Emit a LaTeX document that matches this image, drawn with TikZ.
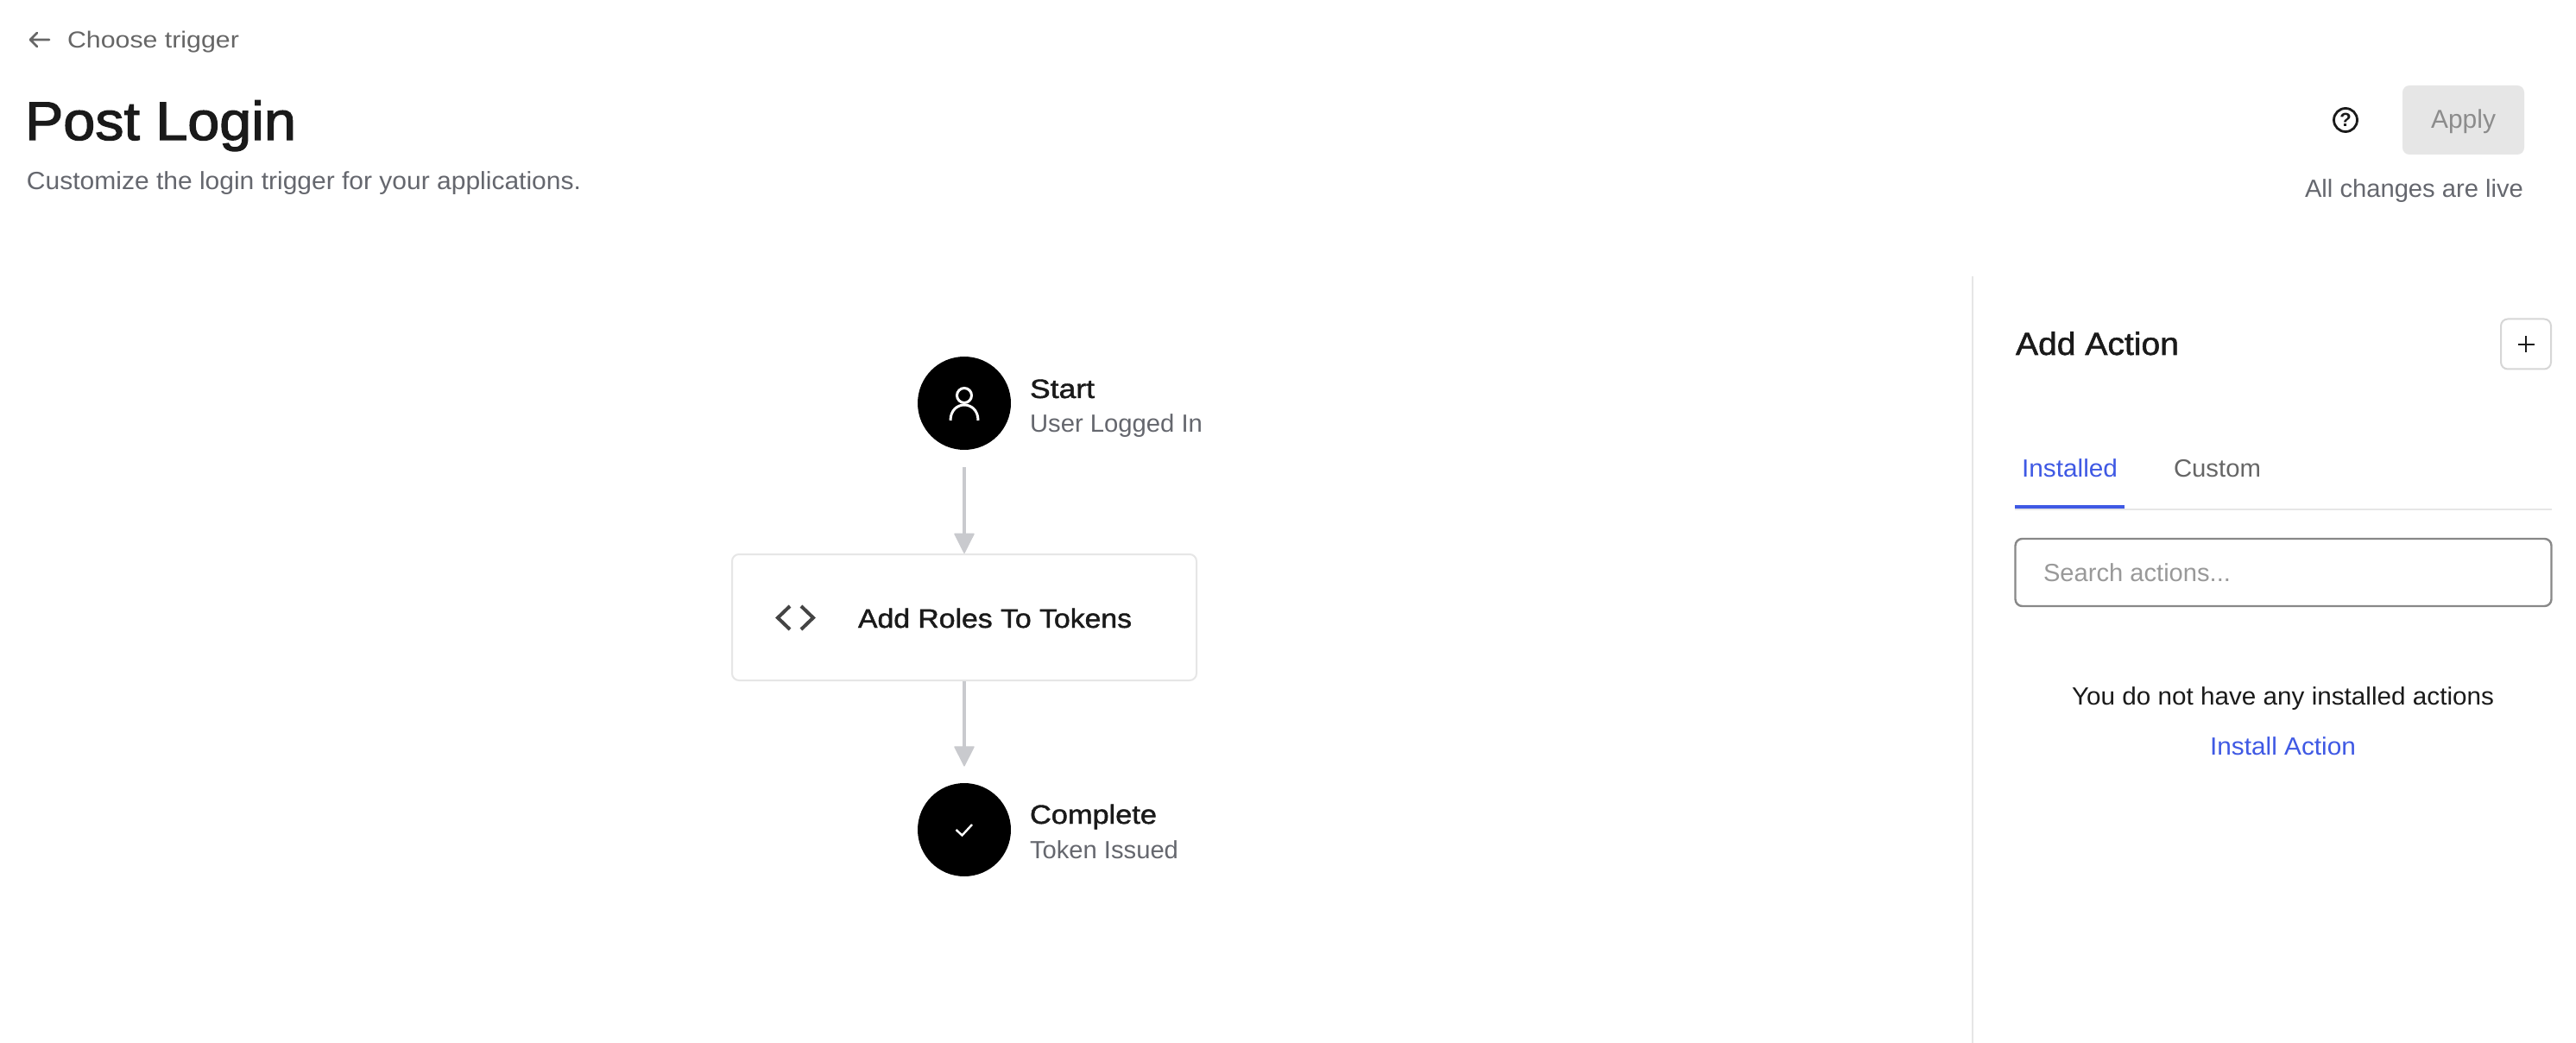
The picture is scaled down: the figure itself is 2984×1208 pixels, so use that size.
\documentclass[tikz,border=0pt]{standalone}
\usepackage{fontspec}
\usepackage{graphicx}
\setmainfont{Liberation Sans}
\newfontfamily\medfont[FakeBold=1.4]{Liberation Sans}
\newfontfamily\titlefont[FakeBold=2]{Liberation Sans}
\usetikzlibrary{arrows.meta}
\definecolor{ink}{HTML}{1A1A1A}
\definecolor{muted}{HTML}{65676E}
\definecolor{backtxt}{HTML}{666666}
\definecolor{connc}{HTML}{C9CACE}
\definecolor{hair}{HTML}{E6E6E6}
\definecolor{plusb}{HTML}{D6D6D6}
\definecolor{blue1}{HTML}{3F59E4}
\definecolor{inputb}{HTML}{888888}
\definecolor{ph}{HTML}{999999}
\definecolor{applyt}{HTML}{8C8C8C}
\definecolor{iconc}{HTML}{444444}
% fit a text to a width given in reference pixels, keeping its height
\newcommand\tw[2]{\resizebox{\dimexpr #1pt/2\relax}{\height}{\strut #2}}
\newcommand\fs[1]{\fontsize{#1}{#1}\selectfont}
\tikzset{
  x=0.5pt,y=-0.5pt,
  txt/.style={anchor=base west,inner sep=0pt,outer sep=0pt},
  rtxt/.style={txt,font=\fs{14.4}},
  dot/.style={circle,fill=black,inner sep=0pt,minimum size=54pt},
  conn/.style={draw=connc,line width=2.2pt,-{Triangle[length=12pt,width=12pt,round,line width=0.6pt]}},
  boxn/.style={draw=hair,line width=1pt,rounded corners=4pt,fill=white,inner sep=0pt},
  glyph/.style={white,line width=1.5pt,line cap=round},
}
\begin{document}
\begin{tikzpicture}
\useasboundingbox[fill=white] (0,0) rectangle (2984,1208);
% header
\coordinate (backR) at (35,46);
\coordinate (backL) at (57,46);
\draw[backtxt,line width=1.3pt,line cap=round,line join=round] (backL) -- (backR) (43,38) -- (backR) -- (43,54);
\node[rtxt,text=backtxt,font=\fs{13.4}] (back) at (78,55.5) {\tw{199}{Choose trigger}};
\node[txt,text=ink,font=\fs{31.5}\titlefont] (title) at (29,162) {\tw{314}{Post Login}};
\node[rtxt,text=muted] (sub) at (31,220) {\tw{642}{Customize the login trigger for your applications.}};
% help, apply
\node[circle,draw=ink,line width=1.4pt,minimum size=13.5pt,inner sep=0pt,font=\fs{11}\bfseries,text=ink] (help) at (2717,139) {?};
\node[fill=hair,rounded corners=4pt,minimum width=70.5pt,minimum height=40pt,inner sep=0pt] (applybox) at (2853.5,139) {};
\node[rtxt,text=applyt,font=\fs{15}] (apply) at (2816,149) {\tw{75}{Apply}};
\node[rtxt,text=muted] (live) at (2670,229) {\tw{253}{All changes are live}};
% flow
\node[dot] (start) at (1117,467) {};
\draw[glyph,line width=1.5pt] (1117,458) ellipse (8.5 and 8.5);
\draw[glyph,line cap=butt] (1101,487) .. controls (1101,463) and (1133,463) .. (1133,487);
\node[rtxt,text=ink,font=\fs{15.4}\medfont] (startt) at (1193,461) {\tw{75}{Start}};
\node[rtxt,text=muted] (starts) at (1193,500.5) {\tw{200}{User Logged In}};
\node[boxn,minimum width=269pt,minimum height=73pt] (action) at (1117,715) {};
\draw[iconc,line width=2pt,line join=miter] (915,702) -- (901,715.5) -- (915,729);
\draw[iconc,line width=2pt,line join=miter] (928,702) -- (942,715.5) -- (928,729);
\node[rtxt,text=ink,font=\fs{15.4}\medfont] (actiont) at (994,727) {\tw{317}{Add Roles To Tokens}};
\node[dot] (done) at (1117,961) {};
\draw[glyph,line width=1.2pt,line cap=butt] (1107.5,961) -- (1114.5,967.5) -- (1126,955);
\node[rtxt,text=ink,font=\fs{15.4}\medfont] (donet) at (1193,954) {\tw{147}{Complete}};
\node[rtxt,text=muted] (dones) at (1193,994.5) {\tw{172}{Token Issued}};
\draw[conn] ([yshift=-10pt]start.south) -- (action.north);
\draw[conn] (action.south) -- ([yshift=9.5pt]done.north);
% side panel
\coordinate (divT) at (2285,320);
\coordinate (divB) at (2285,1208);
\draw[hair,line width=1pt] (divT) -- (divB);
\node[txt,text=ink,font=\fs{18.5}\medfont] (addt) at (2335,411) {\tw{189}{Add Action}};
\node[draw=plusb,line width=1pt,rounded corners=4pt,minimum size=29pt,inner sep=0pt] (plus) at (2926,398.5) {};
\draw[ink,line width=1.2pt] (2916.5,399) -- (2935.5,399) (2926,389.5) -- (2926,408.5);
\node[rtxt,text=blue1] (inst) at (2342,552.5) {\tw{111}{Installed}};
\node[rtxt,text=backtxt] (cust) at (2518,552.5) {\tw{101}{Custom}};
\coordinate (tabL) at (2334,590);
\coordinate (tabR) at (2956,590);
\coordinate (ulL) at (2334,587);
\coordinate (ulR) at (2461,587);
\draw[hair,line width=1pt] (tabL) -- (tabR);
\draw[blue1,line width=2pt] (ulL) -- (ulR);
\node[draw=inputb,line width=1.2pt,rounded corners=4pt,minimum width=310.5pt,minimum height=39pt,inner sep=0pt] (search) at (2645,663) {};
\node[rtxt,text=ph] (sear) at (2367,673.5) {\tw{217}{Search actions...}};
\node[rtxt,text=ink] (none) at (2400,816) {\tw{489}{You do not have any installed actions}};
\node[rtxt,text=blue1] (link) at (2560,874) {\tw{169}{Install Action}};
\end{tikzpicture}
\end{document}
